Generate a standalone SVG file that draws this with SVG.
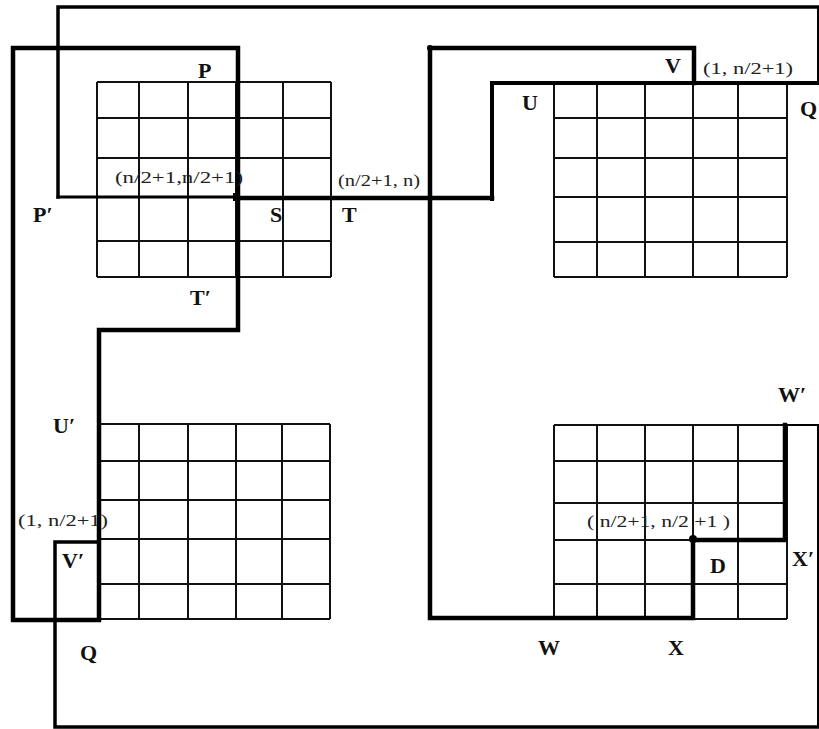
<svg xmlns="http://www.w3.org/2000/svg" width="819" height="729" viewBox="0 0 819 729">
<style>
.g{stroke:#111;stroke-width:2;fill:none}
.p{stroke:#000;fill:none;stroke-linecap:square;stroke-linejoin:miter}
.L{font-family:"Liberation Serif","Times New Roman",serif;font-weight:bold;font-size:22px;fill:#111}
.c{font-family:"Liberation Serif","Times New Roman",serif;font-size:16px;fill:#222}
</style>
<rect width="819" height="729" fill="#fff"/>
<g id="grid-top-left" class="g">
<path d="M97,82H331M97,118H331M97,158H331M97,197H331M97,241H331M97,277H331M97,82V277M139,82V277M188,82V277M236,82V277M283,82V277M331,82V277"/>
</g>
<g id="grid-top-right" class="g">
<path d="M554,84H787M554,118H787M554,158H787M554,197H787M554,242H787M554,277H787M554,84V277M597,84V277M645,84V277M693,84V277M738,84V277M787,84V277"/>
</g>
<g id="grid-bottom-left" class="g">
<path d="M99,424H330M99,461H330M99,500H330M99,539H330M99,584H330M99,619H330M99,424V619M139,424V619M188,424V619M236,424V619M282,424V619M330,424V619"/>
</g>
<g id="grid-bottom-right" class="g">
<path d="M554,425H787M554,461H787M554,503H787M554,540H787M554,584H787M554,619H787M554,425V619M597,425V619M645,425V619M693,425V619M738,425V619M787,425V619"/>
</g>
<g id="connectors">
<path class="p" stroke-width="3.5" d="M58,197V7H818"/>
<path class="p" stroke-width="2" d="M818,7V83"/>
<path class="p" stroke-width="4" d="M818,83H492V199"/>
<path class="p" stroke-width="3" d="M58,197H238"/>
<path class="p" stroke-width="4.5" d="M238,198H492"/>
<path class="p" stroke-width="4.5" d="M13,48H238V330H99V620H13Z"/>
<path class="p" stroke-width="3.5" d="M99,542H55V727H818"/>
<path class="p" stroke-width="2" d="M818,727V425H785"/>
<path class="p" stroke-width="4.5" d="M785,425V540H693V618H430V48H694V83"/>
<circle cx="430" cy="48" r="3" fill="#000"/>
<circle cx="693" cy="539" r="4" fill="#000"/>
<rect x="233" y="193" width="7" height="8" fill="#000"/>
</g>
<g id="labels">
<text class="L" x="198" y="78">P</text>
<text class="L" x="33" y="222">P′</text>
<text class="L" x="270" y="222">S</text>
<text class="L" x="342" y="222">T</text>
<text class="L" x="190" y="305">T′</text>
<text class="L" x="665" y="73">V</text>
<text class="L" x="522" y="110">U</text>
<text class="L" x="800" y="116">Q</text>
<text class="L" x="53" y="433">U′</text>
<text class="L" x="62" y="568">V′</text>
<text class="L" x="80" y="660">Q</text>
<text class="L" x="778" y="402">W′</text>
<text class="L" x="710" y="573">D</text>
<text class="L" x="792" y="566">X′</text>
<text class="L" x="538" y="655">W</text>
<text class="L" x="668" y="655">X</text>
<text class="c" x="115" y="183" textLength="128" lengthAdjust="spacingAndGlyphs">(n/2+1,n/2+1)</text>
<text class="c" x="338" y="186" textLength="82" lengthAdjust="spacingAndGlyphs">(n/2+1, n)</text>
<text class="c" x="703" y="74" textLength="90" lengthAdjust="spacingAndGlyphs">(1, n/2+1)</text>
<text class="c" x="18" y="526" textLength="90" lengthAdjust="spacingAndGlyphs">(1, n/2+1)</text>
<text class="c" x="587" y="527" textLength="143" lengthAdjust="spacingAndGlyphs">( n/2+1, n/2 +1 )</text>
</g>
</svg>
